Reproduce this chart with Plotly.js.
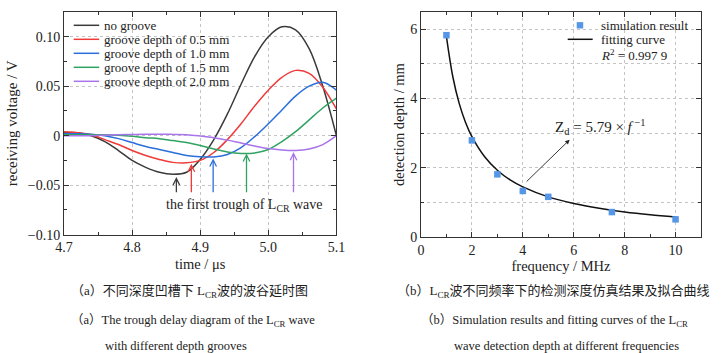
<!DOCTYPE html>
<html><head><meta charset="utf-8">
<script src="https://cdn.plot.ly/plotly-3.0.1.min.js"></script>
<style>html,body{margin:0;padding:0;background:#fff}#chart{width:726px;height:353px}</style>
</head><body><div id="chart"></div>
<script>
// ---------- data (a): receiving voltage vs time ----------
const time = [4.70,4.72,4.74,4.76,4.78,4.80,4.82,4.84,4.86,4.88,4.90,4.92,4.94,4.96,4.98,5.00,5.02,5.04,5.06,5.08,5.10];
const noGroove = [0.003,0.003,0.000,-0.006,-0.015,-0.025,-0.032,-0.037,-0.039,-0.037,-0.024,-0.004,0.022,0.052,0.080,0.100,0.110,0.107,0.088,0.050,0.000];
const depth05 = [0.004,0.003,0.001,-0.004,-0.009,-0.015,-0.020,-0.024,-0.027,-0.0275,-0.025,-0.017,-0.004,0.012,0.030,0.046,0.059,0.066,0.063,0.049,0.027];
const depth10 = [0.002,0.002,0.0015,0.000,-0.003,-0.007,-0.011,-0.014,-0.017,-0.020,-0.0213,-0.0215,-0.019,-0.012,-0.001,0.012,0.026,0.040,0.050,0.054,0.046];
const depth15 = [0.001,0.001,0.001,0.001,0.0005,-0.0005,-0.002,-0.003,-0.005,-0.007,-0.010,-0.0135,-0.0165,-0.018,-0.0175,-0.014,-0.006,0.004,0.016,0.028,0.038];
const depth20 = [0.000,0.000,0.000,0.0005,0.001,0.0012,0.0014,0.0015,0.0013,0.001,-0.0003,-0.002,-0.0045,-0.0075,-0.0105,-0.013,-0.0145,-0.015,-0.0135,-0.009,0.000];
const seriesNames = ['no groove','groove depth of 0.5 mm','groove depth of 1.0 mm','groove depth of 1.5 mm','groove depth of 2.0 mm'];
const troughT = [4.865,4.887,4.919,4.968,5.037];
const troughV = [-0.0418,-0.0283,-0.023,-0.018,-0.0166];
const arrowTailV = -0.0586;
const xTicksA = [4.7,4.8,4.9,5.0,5.1];
const yTicksA = [-0.10,-0.05,0,0.05,0.10];
const yTickTextA = ['\u22120.10','\u22120.05','0','0.05','0.10'];

// ---------- data (b): detection depth vs frequency ----------
const freq = [1,2,3,4,5,7.5,10];
const detDepth = [5.83,2.79,1.81,1.33,1.16,0.72,0.51];
const fitFreq = [1,1.25,1.5,1.75,2,2.5,3,3.5,4,5,6,7,8,9,10];
const fitDepth = [5.79,4.63,3.86,3.31,2.90,2.32,1.93,1.65,1.45,1.16,0.97,0.83,0.72,0.64,0.58];

// ---------- styles ----------
const FONT = "'Liberation Serif', 'DejaVu Serif', serif";
const CJK = "'Liberation Serif', 'Noto Sans CJK SC', serif";
const colors = ['#3a3a3a','#f03a3a','#2a6fdb','#30a363','#a874ea'];
const markerColor = '#5596e6';
const L = 64.3, T = 11.7, R = 701.3, B = 236.7;
const W = 726, H = 353;
const px = v => (v - L) / (R - L);
const py = v => (B - v) / (B - T);

const seriesA = [noGroove, depth05, depth10, depth15, depth20];
const traces = seriesA.map((ys, i) => ({
  x: time, y: ys, type: 'scatter', mode: 'lines', name: seriesNames[i],
  line: {color: colors[i], width: 1.5, shape: 'spline', smoothing: 1},
  xaxis: 'x', yaxis: 'y', showlegend: false, hoverinfo: 'skip'
}));
traces.push({x: fitFreq, y: fitDepth, type: 'scatter', mode: 'lines', name: 'fitting curve',
  line: {color: '#111', width: 1.5, shape: 'spline'}, xaxis: 'x2', yaxis: 'y2', showlegend: false});
traces.push({x: freq, y: detDepth, type: 'scatter', mode: 'markers', name: 'simulation result',
  marker: {symbol: 'square', size: 6.5, color: markerColor}, xaxis: 'x2', yaxis: 'y2', showlegend: false});

const axisCommon = {
  showline: true, linecolor: '#333', linewidth: 1, mirror: 'allticks',
  ticks: 'inside', ticklen: 5, tickcolor: '#333', tickwidth: 1,
  showgrid: true, gridcolor: '#c4c4c4', griddash: 'dot', gridwidth: 1,
  zeroline: false, automargin: false,
  tickfont: {family: FONT, size: 14, color: '#222'},
};

const shapes = [];
const annotations = [];
// legend (a)
const legY = [25, 39, 53, 67, 81];
seriesNames.forEach((n, i) => {
  shapes.push({type: 'line', xref: 'paper', yref: 'paper', x0: px(74), x1: px(99.5), y0: py(legY[i]), y1: py(legY[i]),
    line: {color: colors[i], width: 1.5}});
  annotations.push({xref: 'paper', yref: 'paper', x: px(102), y: py(legY[i]), xanchor: 'left', yanchor: 'middle',
    text: n, showarrow: false, font: {family: FONT, size: 13, color: '#222'}});
});
// trough arrows
troughT.forEach((t, i) => {
  annotations.push({xref: 'x', yref: 'y', axref: 'x', ayref: 'y', x: t, y: troughV[i], ax: t, ay: arrowTailV,
    text: '', showarrow: true, arrowhead: 5, arrowsize: 1, arrowwidth: 1.3, arrowcolor: colors[i]});
});
annotations.push({xref: 'x', yref: 'y', x: 4.965, y: -0.0705, text: 'the first trough of L<sub>CR</sub> wave',
  showarrow: false, font: {family: FONT, size: 14, color: '#222'}});

// legend (b)
shapes.push({type: 'rect', xref: 'paper', yref: 'paper', x0: px(577), x1: px(583.5), y0: py(28.2), y1: py(21.8),
  fillcolor: markerColor, line: {width: 0}});
shapes.push({type: 'line', xref: 'paper', yref: 'paper', x0: px(568), x1: px(593), y0: py(39), y1: py(39),
  line: {color: '#111', width: 1.5}});
annotations.push({xref: 'paper', yref: 'paper', x: px(599), y: py(25), xanchor: 'left', yanchor: 'middle',
  text: 'simulation result', showarrow: false, font: {family: FONT, size: 13, color: '#222'}});
annotations.push({xref: 'paper', yref: 'paper', x: px(599), y: py(39), xanchor: 'left', yanchor: 'middle',
  text: 'fitting curve', showarrow: false, font: {family: FONT, size: 13, color: '#222'}});
annotations.push({xref: 'paper', yref: 'paper', x: px(599), y: py(55), xanchor: 'left', yanchor: 'middle',
  text: '<i>R</i><sup>2</sup> = 0.997 9', showarrow: false, font: {family: FONT, size: 13, color: '#222'}});
// fit formula
annotations.push({xref: 'x2', yref: 'y2', axref: 'x2', ayref: 'y2', x: 5.84, y: 2.81, ax: 4.09, ay: 1.56,
  text: '', showarrow: true, arrowhead: 2, arrowsize: 1, arrowwidth: 0.9, arrowcolor: '#222'});
annotations.push({xref: 'x2', yref: 'y2', x: 7.07, y: 3.17, text: 'Z<sub>d</sub> = 5.79 \u00d7 <i>f</i><sup> \u22121</sup>',
  showarrow: false, font: {family: FONT, size: 15, color: '#222'}});

// captions
const cap = (x, y, text, size) => annotations.push({xref: 'paper', yref: 'paper', x: px(x), y: py(y), xanchor: 'left', yanchor: 'middle',
  text: text, showarrow: false, font: {family: CJK, size: size, color: '#222'}});
cap(69, 291, '（a）不同深度凹槽下 L<sub>CR</sub>波的波谷延时图', 13);
cap(69, 321, '（a）The trough delay diagram of the L<sub>CR</sub> wave', 12.5);
cap(103, 346, 'with different depth grooves', 12.5);
cap(395, 291, '（b）L<sub>CR</sub>波不同频率下的检测深度仿真结果及拟合曲线', 13);
cap(419, 321, '（b）Simulation results and fitting curves of the L<sub>CR</sub>', 12.5);
cap(452, 346, 'wave detection depth at different frequencies', 12.5);

const layout = {
  width: W, height: H, autosize: false,
  margin: {l: L, r: W - R, t: T, b: H - B, pad: 0},
  paper_bgcolor: '#fff', plot_bgcolor: '#fff',
  showlegend: false,
  xaxis: Object.assign({}, axisCommon, {domain: [0, px(336.7)], range: [4.7, 5.1], anchor: 'y',
    tickmode: 'array', tickvals: xTicksA, ticktext: xTicksA.map(v => v.toFixed(1)),
    minor: {tickmode: 'linear', tick0: 4.7, dtick: 0.05, ticks: 'inside', ticklen: 3, tickcolor: '#333', showgrid: false},
    title: {text: 'time / \u03bcs', font: {family: FONT, size: 14.5, color: '#222'}, standoff: 4}}),
  yaxis: Object.assign({}, axisCommon, {domain: [py(234.3), 1], range: [-0.10, 0.125], anchor: 'x',
    tickmode: 'array', tickvals: yTicksA, ticktext: yTickTextA,
    minor: {tickmode: 'linear', tick0: 0, dtick: 0.025, ticks: 'inside', ticklen: 3, tickcolor: '#333', showgrid: false},
    title: {text: 'receiving voltage / V', font: {family: FONT, size: 15, color: '#222'}, standoff: 6}}),
  xaxis2: Object.assign({}, axisCommon, {domain: [px(421.3), 1], range: [0, 11], anchor: 'y2',
    tickmode: 'linear', tick0: 0, dtick: 2,
    minor: {tickmode: 'linear', tick0: 0, dtick: 1, ticks: 'inside', ticklen: 3, tickcolor: '#333', showgrid: false},
    title: {text: 'frequency / MHz', font: {family: FONT, size: 14.5, color: '#222'}, standoff: 4}}),
  yaxis2: Object.assign({}, axisCommon, {domain: [0, 1], range: [0, 6.5], anchor: 'x2',
    tickmode: 'linear', tick0: 0, dtick: 2,
    minor: {tickmode: 'linear', tick0: 0, dtick: 1, ticks: 'inside', ticklen: 3, tickcolor: '#333', showgrid: true, gridcolor: '#c4c4c4', griddash: 'dot'},
    title: {text: 'detection depth / mm', font: {family: FONT, size: 14.5, color: '#222'}, standoff: 2}}),
  shapes: shapes,
  annotations: annotations
};
Plotly.newPlot('chart', traces, layout, {staticPlot: true, displayModeBar: false});
</script></body></html>
